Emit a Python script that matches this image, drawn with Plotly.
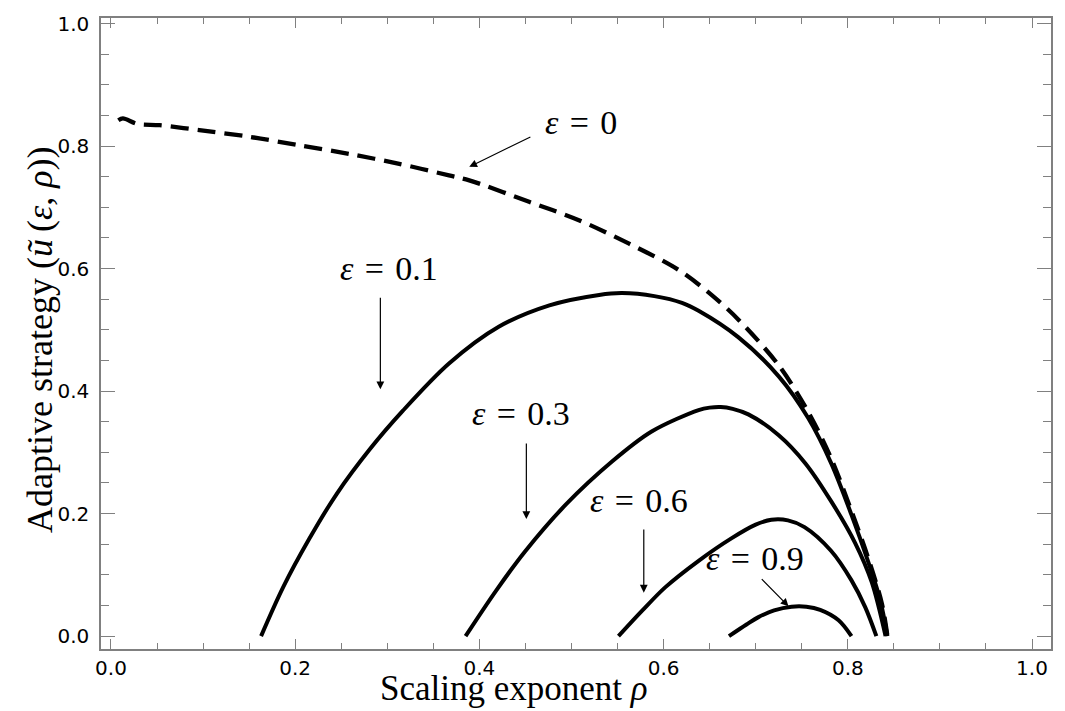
import plotly.graph_objects as go

# ---- data ----
rho_eps0 = [0.008, 0.013, 0.029, 0.053, 0.096, 0.151, 0.205, 0.259, 0.313, 0.367, 0.389,
            0.454, 0.508, 0.562, 0.616, 0.652, 0.681, 0.725, 0.757, 0.782, 0.804, 0.822,
            0.837, 0.843]
u_eps0 = [0.842, 0.845, 0.836, 0.834, 0.826, 0.815, 0.801, 0.787, 0.771, 0.752, 0.744,
          0.709, 0.679, 0.641, 0.598, 0.557, 0.517, 0.442, 0.366, 0.290, 0.204, 0.128,
          0.053, 0.0]

rho_eps01 = [0.163, 0.187, 0.215, 0.245, 0.281, 0.317, 0.367, 0.421, 0.476, 0.530, 0.555,
             0.590, 0.620, 0.638, 0.681, 0.725, 0.757, 0.782, 0.804, 0.822, 0.835, 0.843]
u_eps01 = [0.0, 0.080, 0.158, 0.232, 0.305, 0.368, 0.445, 0.505, 0.540, 0.557, 0.560,
           0.555, 0.544, 0.531, 0.488, 0.424, 0.356, 0.282, 0.198, 0.122, 0.060, 0.0]

rho_eps03 = [0.385, 0.418, 0.450, 0.494, 0.544, 0.587, 0.638, 0.650, 0.662, 0.675, 0.692,
             0.725, 0.754, 0.782, 0.808, 0.826, 0.841]
u_eps03 = [0.0, 0.074, 0.139, 0.215, 0.285, 0.334, 0.369, 0.373, 0.374, 0.371, 0.362,
           0.328, 0.282, 0.220, 0.152, 0.088, 0.0]

rho_eps06 = [0.551, 0.577, 0.602, 0.638, 0.674, 0.700, 0.717, 0.735, 0.753, 0.782, 0.804,
             0.819, 0.831]
u_eps06 = [0.0, 0.042, 0.080, 0.123, 0.160, 0.182, 0.190, 0.189, 0.178, 0.139, 0.091,
           0.047, 0.0]

rho_eps09 = [0.671, 0.690, 0.703, 0.720, 0.739, 0.755, 0.770, 0.790, 0.804]
u_eps09 = [0.0, 0.019, 0.031, 0.042, 0.048, 0.048, 0.043, 0.026, 0.0]

labels = ["ε = 0", "ε = 0.1", "ε = 0.3", "ε = 0.6", "ε = 0.9"]
label_x = [0.510, 0.302, 0.445, 0.573, 0.699]
label_y = [0.839, 0.600, 0.364, 0.221, 0.126]
arrow_tail_x = [0.457, 0.2925, 0.451, 0.5785, 0.705]
arrow_tail_y = [0.816, 0.555, 0.317, 0.1765, 0.0955]
arrow_head_x = [0.389, 0.2925, 0.451, 0.5785, 0.7356]
arrow_head_y = [0.766, 0.403, 0.191, 0.071, 0.0486]

x_tickvals = [0.0, 0.2, 0.4, 0.6, 0.8, 1.0]
y_tickvals = [0.0, 0.2, 0.4, 0.6, 0.8, 1.0]

# ---- figure ----
fig = go.Figure()
line_style = dict(color="black", width=4, shape="spline", smoothing=0.9)
fig.add_trace(go.Scatter(x=rho_eps0, y=u_eps0, mode="lines",
                         line=dict(color="black", width=4.3, dash="18px,9px",
                                   shape="spline", smoothing=0.9)))
for rx, uy in [(rho_eps01, u_eps01), (rho_eps03, u_eps03),
               (rho_eps06, u_eps06), (rho_eps09, u_eps09)]:
    fig.add_trace(go.Scatter(x=rx, y=uy, mode="lines", line=line_style))

serif = "Liberation Serif, Times New Roman, serif"
eps_font = dict(family=serif, size=34, color="black")

for t, lx, ly in zip(labels, label_x, label_y):
    txt = t.replace("ε", "<i>ε</i>").replace(" ", "\u2004")
    fig.add_annotation(x=lx, y=ly, xref="x", yref="y", text=txt,
                       showarrow=False, font=eps_font)
for tx, ty, hx, hy in zip(arrow_tail_x, arrow_tail_y, arrow_head_x, arrow_head_y):
    fig.add_annotation(x=hx, y=hy, ax=tx, ay=ty, xref="x", yref="y",
                       axref="x", ayref="y", text="", showarrow=True,
                       arrowhead=2, arrowsize=1.3, arrowwidth=1.2,
                       arrowcolor="black", standoff=0, startstandoff=0)

# axis titles
fig.add_annotation(x=0.435, y=-0.0625, xref="paper", yref="paper",
                   text="Scaling exponent <i>ρ</i>", showarrow=False,
                   font=dict(family=serif, size=35, color="black"),
                   xanchor="center", yanchor="middle")
fig.add_annotation(x=-0.064, y=0.49, xref="paper", yref="paper",
                   text="Adaptive strategy (<i>ũ</i>\u2009(<i>ε</i>, <i>ρ</i>))",
                   showarrow=False, textangle=-90,
                   font=dict(family=serif, size=36, color="black"),
                   xanchor="center", yanchor="middle")

axis_color = "#808080"
tick_font = dict(family="DejaVu Sans, Arial, sans-serif", size=20, color="black")
fig.update_xaxes(range=[-0.0108, 1.0206], tickvals=x_tickvals,
                 ticktext=[f"{v:.1f}" for v in x_tickvals],
                 ticks="inside", ticklen=10, tickwidth=1.3, tickcolor=axis_color,
                 showline=True, linecolor=axis_color, linewidth=1.5, mirror="ticks",
                 showgrid=False, zeroline=False, tickfont=tick_font,
                 minor=dict(dtick=0.05, tick0=0, ticks="inside", ticklen=6,
                            tickwidth=1.3, tickcolor=axis_color, showgrid=False))
fig.update_yaxes(range=[-0.021, 1.009], tickvals=y_tickvals,
                 ticktext=[f"{v:.1f}" for v in y_tickvals],
                 ticks="inside", ticklen=14, tickwidth=1.3, tickcolor=axis_color,
                 showline=True, linecolor=axis_color, linewidth=1.5, mirror="ticks",
                 showgrid=False, zeroline=False, tickfont=tick_font,
                 ticklabelstandoff=6,
                 minor=dict(dtick=0.05, tick0=0, ticks="inside", ticklen=8,
                            tickwidth=1.3, tickcolor=axis_color, showgrid=False))

fig.update_layout(width=1065, height=711, showlegend=False,
                  plot_bgcolor="white", paper_bgcolor="white",
                  margin=dict(l=101, r=12, t=13, b=62))

fig.write_html("out.html", config={"displayModeBar": False},
               post_script="document.body.style.margin='0px';"
                           "document.body.style.overflow='hidden';")
